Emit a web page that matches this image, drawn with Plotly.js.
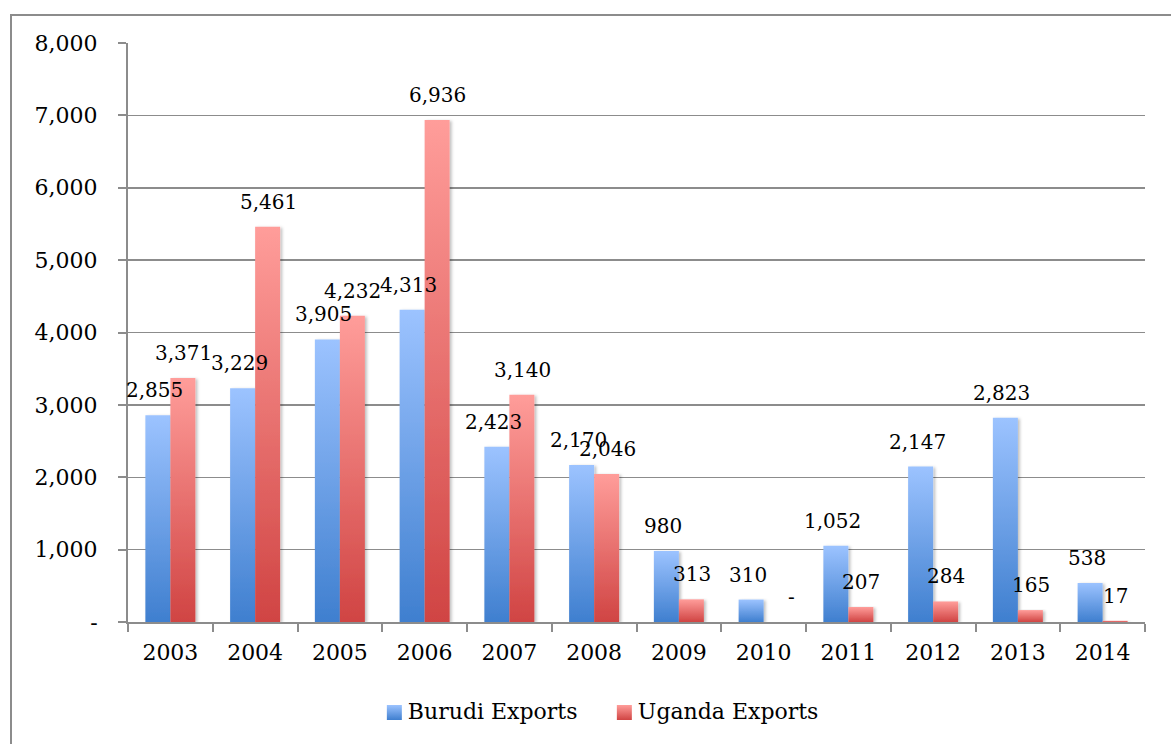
<!DOCTYPE html>
<html>
<head>
<meta charset="utf-8">
<script src="https://cdn.plot.ly/plotly-3.0.1.min.js"></script>
<style>
html,body{margin:0;padding:0;background:#fff;overflow:hidden;}
#wrap{position:relative;width:1171px;height:744px;}
#chart{width:1171px;height:744px;}
#frame{position:absolute;left:10px;top:14px;width:1200px;height:800px;border:2px solid #8c8c8c;box-sizing:border-box;pointer-events:none;}
</style>
</head>
<body>
<div id="wrap"><div id="chart"></div><div id="frame"></div></div>
<script>
const years = ['2003','2004','2005','2006','2007','2008','2009','2010','2011','2012','2013','2014'];
const burundiExports = [2855, 3229, 3905, 4313, 2423, 2170, 980, 310, 1052, 2147, 2823, 538];
const ugandaExports  = [3371, 5461, 4232, 6936, 3140, 2046, 313, 0, 207, 284, 165, 17];
const seriesNames = ['Burudi Exports', 'Uganda Exports'];
const yTickVals = [0,1000,2000,3000,4000,5000,6000,7000,8000];
const yTickText = ['-','1,000','2,000','3,000','4,000','5,000','6,000','7,000','8,000'];

const FONT = 'DejaVu Serif, Liberation Serif, serif';
function fmt(v){ return v === 0 ? '-' : v.toLocaleString('en-US'); }

const traces = [
  {type:'bar', name:seriesNames[0], x:years, y:burundiExports, marker:{color:'#6a9ee6'}, hoverinfo:'x+y'},
  {type:'bar', name:seriesNames[1], x:years, y:ugandaExports, marker:{color:'#e86d6a'}, hoverinfo:'x+y'}
];

const annotations = [];
years.forEach((yr,i)=>{
  annotations.push({x:i, y:burundiExports[i], text:fmt(burundiExports[i]), xref:'x', yref:'y',
    showarrow:false, xanchor:'center', yanchor:'bottom', xshift:-16, yshift:11,
    font:{family:FONT, size:20, color:'#000'}});
  annotations.push({x:i, y:ugandaExports[i], text:fmt(ugandaExports[i]), xref:'x', yref:'y',
    showarrow:false, xanchor:'center', yanchor:'bottom', xshift: ugandaExports[i]===0 ? 28 : 13, yshift:11,
    font:{family:FONT, size:20, color:'#000'}});
});

const layout = {
  width:1171, height:744,
  margin:{l:128, r:26, t:43, b:118},
  paper_bgcolor:'#fff', plot_bgcolor:'#fff',
  font:{family:FONT, size:22, color:'#000'},
  barmode:'group', bargap:0.41, bargroupgap:0,
  showlegend:true,
  legend:{orientation:'h', x:0.462, xanchor:'center', y:-0.153, yanchor:'middle',
    font:{family:FONT, size:22, color:'#000'}, traceorder:'normal',
    entrywidth:185, entrywidthmode:'pixels'},
  xaxis:{type:'category', range:[-0.5, years.length-0.5], autorange:false,
    showline:true, linecolor:'#8c8c8c', linewidth:2, tickangle:0,
    ticks:'outside', tickson:'boundaries', ticklen:8, tickwidth:2, tickcolor:'#8c8c8c',
    showgrid:false, zeroline:false, ticklabelstandoff:10,
    tickfont:{family:FONT, size:22, color:'#000'}},
  yaxis:{range:[0,8000], autorange:false, tickvals:yTickVals, ticktext:yTickText,
    showline:true, linecolor:'#8c8c8c', linewidth:2,
    ticks:'outside', ticklen:8, tickwidth:2, tickcolor:'#8c8c8c',
    showgrid:true, gridcolor:'#8c8c8c', gridwidth:1.5, zeroline:false,
    ticklabelstandoff:16,
    tickfont:{family:FONT, size:22, color:'#000'}},
  annotations:annotations
};

function applyGradients(){
  const gd = document.getElementById('chart');
  const svg = gd.querySelector('svg.main-svg');
  if(!svg) return;
  if(!svg.querySelector('#gBlue')){
    const ns='http://www.w3.org/2000/svg';
    let defs = svg.querySelector('defs');
    if(!defs){ defs=document.createElementNS(ns,'defs'); svg.insertBefore(defs, svg.firstChild); }
    const mk=(id,c1,c2)=>{
      const g=document.createElementNS(ns,'linearGradient');
      g.setAttribute('id',id); g.setAttribute('x1','0'); g.setAttribute('y1','0'); g.setAttribute('x2','0'); g.setAttribute('y2','1');
      const s1=document.createElementNS(ns,'stop'); s1.setAttribute('offset','0'); s1.setAttribute('stop-color',c1);
      const s2=document.createElementNS(ns,'stop'); s2.setAttribute('offset','1'); s2.setAttribute('stop-color',c2);
      g.appendChild(s1); g.appendChild(s2); defs.appendChild(g);
    };
    mk('gBlue','#9cc3ff','#3f7fcf');
    mk('gRed','#ff9d9a','#d04443');
    const f=document.createElementNS(ns,'filter');
    f.setAttribute('id','bshadow'); f.setAttribute('x','-20%'); f.setAttribute('y','-5%'); f.setAttribute('width','150%'); f.setAttribute('height','115%');
    const ds=document.createElementNS(ns,'feDropShadow');
    ds.setAttribute('dx','2'); ds.setAttribute('dy','1'); ds.setAttribute('stdDeviation','1.5'); ds.setAttribute('flood-color','#000'); ds.setAttribute('flood-opacity','0.25');
    f.appendChild(ds); defs.appendChild(f);
  }
  const ids=['gBlue','gRed'];
  gd.querySelectorAll('.barlayer .trace.bars').forEach((t,i)=>{
    t.querySelectorAll('path').forEach(p=>{ p.style.fill='url(#'+ids[i]+')'; p.setAttribute('filter','url(#bshadow)'); });
  });
  gd.querySelectorAll('.legend .traces').forEach((t,i)=>{
    const txt = t.querySelector('text.legendtext');
    const paths = t.querySelectorAll('.legendpoints path');
    paths.forEach((p,k)=>{
      if(k>0){ p.style.display='none'; return; }
      p.style.fill='url(#'+ids[i]+')';
      p.style.stroke='none';
      p.style.strokeWidth='0';
      p.setAttribute('d','M-7.5,-7.5H7.5V7.5H-7.5Z');
      p.removeAttribute('transform');
      if(txt){
        const tr = txt.getBoundingClientRect();
        const pr = p.getBoundingClientRect();
        const dx = (tr.left - 6 - 15) - pr.left;
        const dy = (tr.top + tr.height/2 + 1) - (pr.top + pr.height/2);
        p.setAttribute('transform','translate('+dx.toFixed(1)+','+dy.toFixed(1)+')');
      }
    });
  });
}

Plotly.newPlot('chart', traces, layout, {displayModeBar:false, staticPlot:true}).then(()=>{
  applyGradients();
  document.getElementById('chart').on('plotly_afterplot', applyGradients);
});
</script>
</body>
</html>
